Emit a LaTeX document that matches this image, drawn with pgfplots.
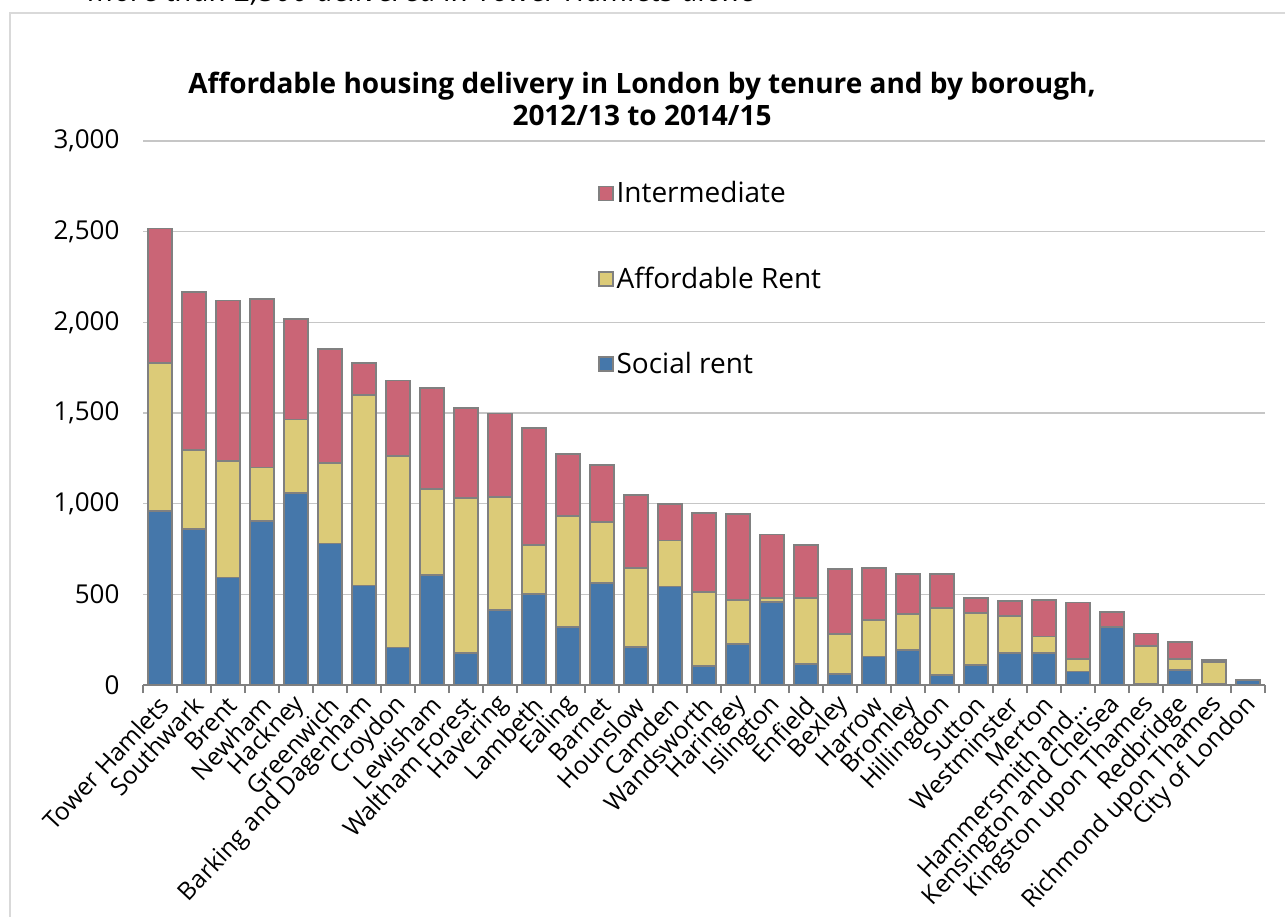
\documentclass[border=0pt]{standalone}
\usepackage{fontspec}
\setmainfont{Open Sans}
\usepackage{pgfplots}
\usepackage{pgfplotstable}
\pgfplotsset{compat=1.18}

\definecolor{socialc}{RGB}{69,119,170}
\definecolor{affordc}{RGB}{220,203,120}
\definecolor{interc}{RGB}{202,101,118}
\definecolor{edgec}{RGB}{128,128,128}

% x, social rent, affordable rent, intermediate
\pgfplotstableread{
x social afford inter
1  960 814 744
2  861 437 871
3  593 644 884
4  905 294 928
5  1058 406 556
6  780 445 626
7  549 1049 180
8  207 1058 414
9  607 473 556
10 175 855 496
11 414 625 458
12 501 272 643
13 319 614 339
14 561 339 312
15 208 438 402
16 543 254 200
17 107 408 434
18 225 245 475
19 460 18 352
20 115 363 295
21 60 222 359
22 157 200 287
23 194 198 219
24 55 368 190
25 111 285 85
26 175 204 85
27 175 92 200
28 74 68 313
29 317 5 79
30 5 209 70
31 84 60 92
32 5 121 11
33 26 0 0
}\boroughs

\begin{document}
\begin{tikzpicture}
\useasboundingbox (0,0) rectangle (642.5pt,-458pt);
\clip (0,0) rectangle (642.5pt,-458pt);
\draw[gray!30, line width=0.8pt] (5pt,-460pt) -- (5pt,-6.5pt) -- (650pt,-6.5pt);
\node[anchor=base west, inner sep=0pt, font=\itshape\fontsize{15}{16}\selectfont] at (44pt,-0.6pt) {more than 2,500 delivered in Tower Hamlets alone};
\node[align=center, font=\bfseries\fontsize{14}{16}\selectfont] at (321pt,-49.5pt) {Affordable housing delivery in London by tenure and by borough,\\2012/13 to 2014/15};
\begin{axis}[
    at={(71.5pt,-342.5pt)}, anchor=south west,
    scale only axis, width=561pt, height=272pt,
    ybar stacked, bar width=12pt,
    xmin=0.5, xmax=33.5, ymin=0, ymax=3000,
    ytick={0,500,...,3000},
    ymajorgrids, grid style={gray!45, line width=0.8pt},
    axis lines*=left,
    y axis line style={draw=none},
    x axis line style={edgec, line width=0.8pt},
    ytick style={draw=none},
    xtick={1,...,33},
    major x tick style={draw=none},
    minor xtick={0.5,1.5,...,33.5},
    minor x tick style={edgec, line width=0.8pt},
    tick align=outside,
    minor tick length=4pt,
    /pgf/number format/assume math mode=true,
    /pgf/number format/1000 sep={,},
    yticklabel style={font=\fontsize{13}{15}\selectfont, xshift=-4pt},
    xticklabels={Tower Hamlets, Southwark, Brent, Newham, Hackney, Greenwich, Barking and Dagenham, Croydon, Lewisham, Waltham Forest, Havering, Lambeth, Ealing, Barnet, Hounslow, Camden, Wandsworth, Haringey, Islington, Enfield, Bexley, Harrow, Bromley, Hillingdon, Sutton, Westminster, Merton, Hammersmith and…, Kensington and Chelsea, Kingston upon Thames, Redbridge, Richmond upon Thames, City of London},
    xticklabel style={font=\fontsize{12.3}{14}\selectfont, rotate=47, anchor=east, inner sep=1pt, yshift=-4pt},
    every axis plot/.append style={draw=edgec, line width=0.9pt},
    legend image code/.code={\draw[#1] (0pt,-3.5pt) rectangle (7pt,3.5pt);},
    reverse legend,
    legend cell align=left,
    legend style={at={(0.405,0.932)}, anchor=north west, draw=none, fill=none,
        font=\fontsize{14}{16}\selectfont, row sep=27.5pt, inner sep=0pt,
        nodes={inner sep=1.5pt}},
]
\addplot[fill=socialc] table[x=x, y=social] {\boroughs};
\addplot[fill=affordc] table[x=x, y=afford] {\boroughs};
\addplot[fill=interc] table[x=x, y=inter] {\boroughs};
\legend{Social rent, Affordable Rent, Intermediate}
\end{axis}
\end{tikzpicture}
\end{document}
